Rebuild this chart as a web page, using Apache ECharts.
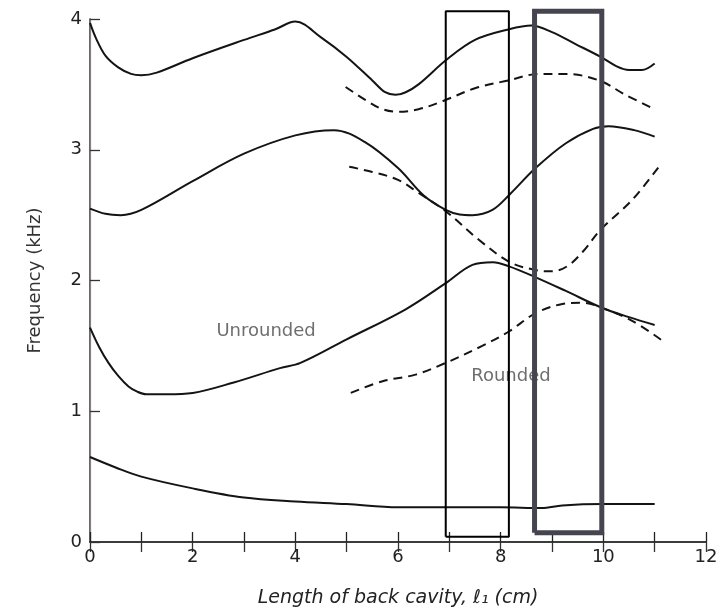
<!DOCTYPE html>
<html>
<head>
<meta charset="utf-8">
<script src="https://cdn.jsdelivr.net/npm/echarts@6/dist/echarts.min.js"></script>
<style>
  html, body { margin: 0; padding: 0; background: #fff; }
  #chart { width: 724px; height: 613px; }
</style>
</head>
<body>
<div id="chart"></div>
<script>
// Formant frequencies (kHz) against back-cavity length (cm)
// Unrounded configuration: solid curves
const unroundedF4 = [[0,3.97],[0.12,3.85],[0.3,3.72],[0.55,3.63],[0.8,3.58],[1.0,3.57],[1.3,3.59],[2.0,3.70],[3.0,3.84],[3.6,3.92],[4.0,3.98],[4.5,3.86],[5.0,3.71],[5.5,3.53],[5.75,3.44],[5.95,3.42],[6.15,3.44],[6.4,3.50],[6.95,3.69],[7.5,3.84],[8.15,3.92],[8.6,3.95],[9.0,3.90],[9.45,3.81],[9.95,3.71],[10.25,3.64],[10.5,3.61],[10.75,3.61],[11.0,3.66]];
const unroundedF3 = [[0,2.55],[0.3,2.51],[0.6,2.50],[1.0,2.54],[2.0,2.76],[3.0,2.97],[4.0,3.11],[4.75,3.15],[5.35,3.06],[6.0,2.86],[6.5,2.65],[6.93,2.54],[7.2,2.505],[7.45,2.50],[7.84,2.54],[8.18,2.66],[8.68,2.86],[9.27,3.05],[9.8,3.16],[10.1,3.18],[10.6,3.15],[11.0,3.10]];
const unroundedF2 = [[0,1.64],[0.18,1.49],[0.36,1.37],[0.55,1.27],[0.75,1.19],[0.92,1.15],[1.1,1.13],[1.5,1.13],[2.0,1.14],[2.8,1.22],[3.7,1.33],[4.1,1.37],[5.0,1.55],[6.15,1.78],[6.93,1.98],[7.45,2.12],[7.85,2.14],[8.15,2.11],[8.65,2.03],[9.27,1.92],[9.98,1.79],[10.5,1.72],[11.0,1.66]];
const unroundedF1 = [[0,0.65],[0.5,0.57],[1,0.50],[2,0.41],[3,0.34],[4,0.31],[5,0.29],[6,0.265],[7,0.265],[8,0.265],[8.8,0.26],[9.2,0.28],[10,0.29],[11,0.29]];

// Rounded configuration: dashed curves
const roundedF4 = [[4.98,3.48],[5.37,3.38],[5.7,3.31],[6.0,3.29],[6.4,3.31],[6.86,3.37],[7.5,3.47],[8.15,3.53],[8.75,3.58],[9.27,3.58],[9.92,3.53],[10.43,3.42],[11.0,3.31]];
const roundedF3 = [[5.05,2.87],[5.5,2.83],[6.0,2.77],[6.4,2.67],[6.93,2.53],[7.58,2.31],[8.18,2.14],[8.68,2.08],[9.0,2.07],[9.3,2.11],[9.6,2.22],[9.95,2.39],[10.57,2.62],[11.12,2.89]];
const roundedF2 = [[5.08,1.14],[5.7,1.23],[6.34,1.28],[6.93,1.37],[7.64,1.50],[8.16,1.61],[8.68,1.75],[9.2,1.82],[9.6,1.83],[9.98,1.79],[10.57,1.69],[11.15,1.54]];

// Highlighted length ranges [xFrom, xTo, yFrom, yTo]
const thinBand = [6.93, 8.16, 0.04, 4.06];
const thickBand = [8.66, 9.97, 0.07, 4.06];

// Curve labels [x, y, text]
const curveLabels = [[3.43, 1.61, 'Unrounded'], [8.2, 1.27, 'Rounded']];

// Axis ranges
const xRange = [0, 12];
const yRange = [0, 4];

function boxPath(b) {
  return [[b[0], b[2]], [b[1], b[2]], [b[1], b[3]], [b[0], b[3]], [b[0], b[2]]];
}

const ink = '#141414';
const fontFamily = 'DejaVu Sans, sans-serif';

function curve(data, dashed) {
  return {
    type: 'line',
    data: data,
    smooth: 0.35,
    showSymbol: false,
    symbol: 'none',
    silent: true,
    lineStyle: {
      color: ink,
      width: 2,
      type: dashed ? [9, 6] : 'solid'
    },
    z: 3
  };
}

const chart = echarts.init(document.getElementById('chart'), null, { renderer: 'canvas' });

chart.setOption({
  animation: false,
  backgroundColor: '#ffffff',
  grid: { left: 90, right: 18, top: 19, bottom: 69, containLabel: false },
  xAxis: [
    {
      type: 'value', position: 'bottom', min: xRange[0], max: xRange[1], interval: 1,
      name: 'Length of back cavity, \u2113\u2081 (cm)',
      nameLocation: 'middle', nameGap: 47,
      nameTextStyle: { fontFamily: fontFamily, fontSize: 19, fontStyle: 'italic', color: '#222' },
      axisLine: { show: true, lineStyle: { color: '#222', width: 1.5 } },
      axisTick: { show: true, inside: true, length: 10, lineStyle: { color: '#222', width: 1.3 } },
      axisLabel: {
        margin: 6, fontFamily: fontFamily, fontSize: 18, color: '#222',
        formatter: v => (v % 2 === 0 ? String(v) : '')
      },
      splitLine: { show: false }
    },
    {
      type: 'value', position: 'top', min: xRange[0], max: xRange[1], interval: 1,
      axisLine: { show: true, lineStyle: { color: '#333', width: 1.5 } },
      axisTick: { show: true, inside: true, length: 10, lineStyle: { color: '#333', width: 1.3 } },
      axisLabel: { show: false },
      splitLine: { show: false }
    }
  ],
  yAxis: [
    {
      type: 'value', position: 'left', min: yRange[0], max: yRange[1], interval: 1,
      name: 'Frequency (kHz)',
      nameLocation: 'middle', nameGap: 46,
      nameTextStyle: { fontFamily: fontFamily, fontSize: 18, color: '#333' },
      axisLine: { show: true, lineStyle: { color: '#333', width: 1.5 } },
      axisTick: { show: true, inside: true, length: 10, lineStyle: { color: '#333', width: 1.3 } },
      axisLabel: { margin: 8, fontFamily: fontFamily, fontSize: 18, color: '#222' },
      splitLine: { show: false }
    },
    {
      type: 'value', position: 'right', min: yRange[0], max: yRange[1], interval: 1,
      axisLine: { show: true, lineStyle: { color: '#8a7f86', width: 1.2 } },
      axisTick: { show: false },
      axisLabel: { show: false },
      splitLine: { show: false }
    }
  ],
  series: [
    curve(unroundedF4, false),
    curve(unroundedF3, false),
    curve(unroundedF2, false),
    curve(unroundedF1, false),
    curve(roundedF4, true),
    curve(roundedF3, true),
    curve(roundedF2, true),
    {
      type: 'line', data: boxPath(thinBand), clip: false, silent: true,
      showSymbol: false, symbol: 'none',
      lineStyle: { color: '#000', width: 2 }, z: 5
    },
    {
      type: 'line', data: boxPath(thickBand), clip: false, silent: true,
      showSymbol: false, symbol: 'none',
      lineStyle: { color: '#45454f', width: 5, join: 'miter' }, z: 6
    },
    {
      type: 'scatter', silent: true, symbolSize: 0, z: 4,
      data: curveLabels.map(d => ({ value: [d[0], d[1]], name: d[2] })),
      label: {
        show: true, position: 'inside', formatter: p => p.name,
        fontFamily: fontFamily, fontSize: 18, color: '#4a4a4a'
      }
    }
  ]
});
</script>
</body>
</html>
